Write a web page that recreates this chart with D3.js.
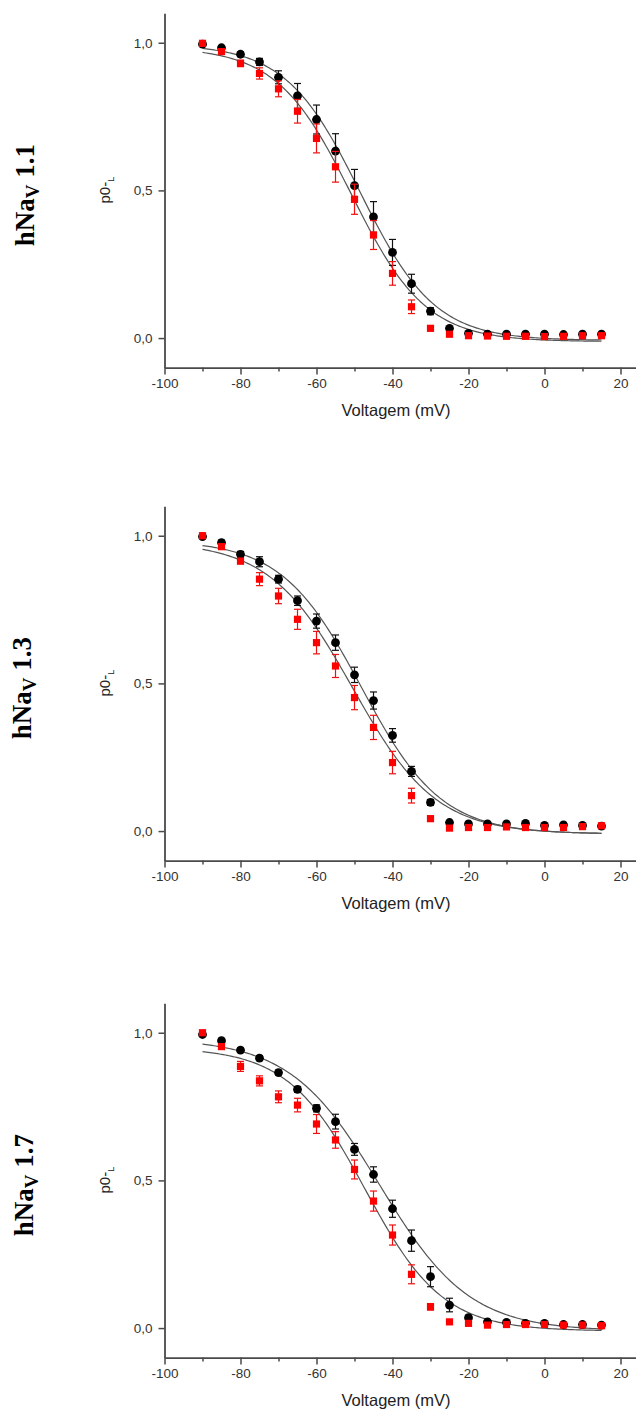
<!DOCTYPE html>
<html>
<head>
<meta charset="utf-8">
<script src="https://cdn.jsdelivr.net/npm/d3@7"></script>
<style>
  html, body { margin: 0; padding: 0; background: #fff; }
  svg { display: block; }
</style>
</head>
<body>
<script>
// Test potentials (mV)
const voltages = [-90, -85, -80, -75, -70, -65, -60, -55, -50, -45, -40, -35, -30, -25, -20, -15, -10, -5, 0, 5, 10, 15];

// hNaV 1.1
const nav11Black    = [0.995, 0.983, 0.961, 0.935, 0.883, 0.820, 0.740, 0.633, 0.516, 0.410, 0.290, 0.184, 0.091, 0.033, 0.016, 0.013, 0.013, 0.013, 0.013, 0.012, 0.013, 0.013];
const nav11BlackErr = [0.005, 0.006, 0.008, 0.012, 0.022, 0.042, 0.049, 0.059, 0.055, 0.052, 0.044, 0.032, 0.012, 0.006, 0.004, 0.003, 0.003, 0.003, 0.003, 0.003, 0.003, 0.003];
const nav11Red      = [0.998, 0.970, 0.930, 0.896, 0.844, 0.768, 0.676, 0.580, 0.470, 0.349, 0.219, 0.106, 0.033, 0.013, 0.008, 0.007, 0.006, 0.006, 0.005, 0.006, 0.008, 0.008];
const nav11RedErr   = [0.006, 0.008, 0.011, 0.019, 0.027, 0.040, 0.049, 0.052, 0.051, 0.049, 0.040, 0.023, 0.006, 0.004, 0.003, 0.003, 0.003, 0.003, 0.003, 0.003, 0.003, 0.003];
// Boltzmann fits: [A1, A2, V50, k]
const nav11BlackFit = [0.995, -0.008, -48.5, 9.8];
const nav11RedFit   = [0.985, -0.012, -50.8, 9.8];

// hNaV 1.3
const nav13Black    = [0.997, 0.977, 0.937, 0.912, 0.853, 0.780, 0.711, 0.638, 0.529, 0.442, 0.324, 0.202, 0.097, 0.029, 0.024, 0.024, 0.024, 0.026, 0.019, 0.021, 0.019, 0.017];
const nav13BlackErr = [0.006, 0.008, 0.010, 0.017, 0.013, 0.016, 0.024, 0.026, 0.026, 0.029, 0.023, 0.017, 0.010, 0.005, 0.004, 0.003, 0.003, 0.003, 0.003, 0.003, 0.003, 0.003];
const nav13Red      = [1.000, 0.963, 0.914, 0.853, 0.796, 0.717, 0.638, 0.559, 0.452, 0.351, 0.232, 0.120, 0.042, 0.010, 0.012, 0.012, 0.014, 0.012, 0.012, 0.012, 0.015, 0.018];
const nav13RedErr   = [0.006, 0.008, 0.009, 0.022, 0.026, 0.034, 0.038, 0.039, 0.041, 0.041, 0.038, 0.025, 0.008, 0.004, 0.003, 0.003, 0.003, 0.003, 0.003, 0.003, 0.003, 0.003];
const nav13BlackFit = [0.985, -0.010, -48.2, 10.5];
const nav13RedFit   = [0.980, -0.010, -50.5, 10.95];

// hNaV 1.7
const nav17Black    = [0.994, 0.973, 0.941, 0.914, 0.865, 0.808, 0.744, 0.699, 0.605, 0.520, 0.404, 0.296, 0.174, 0.078, 0.035, 0.021, 0.019, 0.016, 0.016, 0.012, 0.012, 0.010];
const nav17BlackErr = [0.005, 0.006, 0.007, 0.008, 0.008, 0.010, 0.012, 0.025, 0.020, 0.026, 0.029, 0.036, 0.034, 0.023, 0.008, 0.005, 0.003, 0.003, 0.003, 0.003, 0.003, 0.003];
const nav17Red      = [1.000, 0.953, 0.886, 0.837, 0.783, 0.755, 0.691, 0.637, 0.537, 0.430, 0.315, 0.182, 0.072, 0.021, 0.016, 0.010, 0.012, 0.012, 0.012, 0.010, 0.010, 0.008];
const nav17RedErr   = [0.006, 0.008, 0.017, 0.017, 0.020, 0.023, 0.032, 0.028, 0.032, 0.034, 0.034, 0.032, 0.011, 0.005, 0.003, 0.003, 0.003, 0.003, 0.003, 0.003, 0.003, 0.003];
const nav17BlackFit = [0.980, -0.010, -43.4, 11.8];
const nav17RedFit   = [0.950, -0.010, -47.2, 10.2];

const channelNames = ["1.1", "1.3", "1.7"];
const xTicks = [-100, -80, -60, -40, -20, 0, 20];
const xMinorTicks = [-90, -70, -50, -30, -10, 10];
const yTicks = [0, 0.5, 1.0];
const xTitle = "Voltagem (mV)";

const panels = [
  { name: channelNames[0], black: nav11Black, blackErr: nav11BlackErr, red: nav11Red, redErr: nav11RedErr, blackFit: nav11BlackFit, redFit: nav11RedFit },
  { name: channelNames[1], black: nav13Black, blackErr: nav13BlackErr, red: nav13Red, redErr: nav13RedErr, blackFit: nav13BlackFit, redFit: nav13RedFit },
  { name: channelNames[2], black: nav17Black, blackErr: nav17BlackErr, red: nav17Red, redErr: nav17RedErr, blackFit: nav17BlackFit, redFit: nav17RedFit }
];

const W = 636, H = 1409;
const panelTops = [13.2, 506.2, 1003.2];
const plotH = 354.4;
const axisX = 164.5;
const labelX = [34, 31, 33];

const svg = d3.select("body").append("svg")
  .attr("width", W).attr("height", H)
  .attr("viewBox", `0 0 ${W} ${H}`);

const x = d3.scaleLinear().domain([-100, 24]).range([axisX, axisX + 124 * 3.8]);

const boltz = (p, v) => p[1] + (p[0] - p[1]) / (1 + Math.exp((v - p[2]) / p[3]));
const fitV = d3.range(-90, 15.01, 0.5);

const sans = "'Liberation Sans', Arial, sans-serif";
const axisColor = "#4a4a4a";

panels.forEach((p, i) => {
  const top = panelTops[i];
  const bottom = top + plotH;
  const y = d3.scaleLinear().domain([-0.1, 1.1]).range([bottom, top]);
  const g = svg.append("g");

  // x axis: labelled majors and short minors
  g.append("g").attr("transform", `translate(0,${bottom})`)
    .call(d3.axisBottom(x).tickValues(xTicks).tickSize(7).tickSizeOuter(0).tickPadding(4).tickFormat(d => String(d)));
  g.append("g").attr("transform", `translate(0,${bottom})`)
    .call(d3.axisBottom(x).tickValues(xMinorTicks).tickSize(4).tickSizeOuter(0).tickFormat(""))
    .select(".domain").remove();

  // y axis
  g.append("g").attr("transform", `translate(${axisX},0)`)
    .call(d3.axisLeft(y).tickValues(yTicks).tickSize(6).tickSizeOuter(0).tickPadding(6)
      .tickFormat(d => d3.format(".1f")(d).replace(".", ",")));

  g.selectAll(".domain").attr("stroke", axisColor).attr("stroke-width", 1.8);
  g.selectAll(".tick line").attr("stroke", axisColor).attr("stroke-width", 1.5);
  g.selectAll(".tick text").attr("fill", "#333").style("font-family", sans).style("font-size", "13.5px");

  // Boltzmann fit curves
  const line = (fit) => d3.line().x(v => x(v)).y(v => y(boltz(fit, v)))(fitV);
  [p.blackFit, p.redFit].forEach(fit => {
    g.append("path").attr("d", line(fit)).attr("fill", "none")
      .attr("stroke", "#555").attr("stroke-width", 1.2);
  });

  // error bars and markers
  const drawErr = (vals, errs, color) => {
    voltages.forEach((v, j) => {
      const cx = x(v), y1 = y(vals[j] + errs[j]), y2 = y(vals[j] - errs[j]);
      g.append("line").attr("x1", cx).attr("x2", cx).attr("y1", y1).attr("y2", y2)
        .attr("stroke", color).attr("stroke-width", 1.2);
      [y1, y2].forEach(yy => g.append("line").attr("x1", cx - 3.5).attr("x2", cx + 3.5)
        .attr("y1", yy).attr("y2", yy).attr("stroke", color).attr("stroke-width", 1.2));
    });
  };

  drawErr(p.black, p.blackErr, "#111");
  g.selectAll(null).data(voltages).enter().append("circle")
    .attr("cx", v => x(v)).attr("cy", (v, j) => y(p.black[j])).attr("r", 4.4)
    .attr("fill", "#000");

  drawErr(p.red, p.redErr, "#f01010");
  const s = 7.2;
  g.selectAll(null).data(voltages).enter().append("rect")
    .attr("x", v => x(v) - s / 2).attr("y", (v, j) => y(p.red[j]) - s / 2)
    .attr("width", s).attr("height", s).attr("fill", "#ff0000");

  // axis titles
  const midY = top + 177;
  const yt = g.append("text")
    .attr("transform", `translate(110,${midY}) rotate(-90)`)
    .attr("text-anchor", "middle")
    .style("font-family", sans).style("font-size", "15px").attr("fill", "#222");
  yt.append("tspan").text("p0-");
  yt.append("tspan").attr("dy", 4).style("font-size", "9px").text("L");

  g.append("text").attr("x", 396).attr("y", bottom + 48)
    .attr("text-anchor", "middle")
    .style("font-family", sans).style("font-size", "16.5px").attr("fill", "#222")
    .text(xTitle);

  // channel label
  const lt = g.append("text")
    .attr("transform", `translate(${labelX[i]},${top + 182}) rotate(-90)`)
    .attr("text-anchor", "middle")
    .style("font-family", "'Liberation Serif', 'Times New Roman', serif")
    .style("font-weight", "bold").style("font-size", "27px").attr("fill", "#000");
  lt.append("tspan").text("hNa");
  lt.append("tspan").attr("dy", 5).style("font-size", "19px").text("V");
  lt.append("tspan").attr("dy", -5).text(" " + p.name);
});
</script>
</body>
</html>
